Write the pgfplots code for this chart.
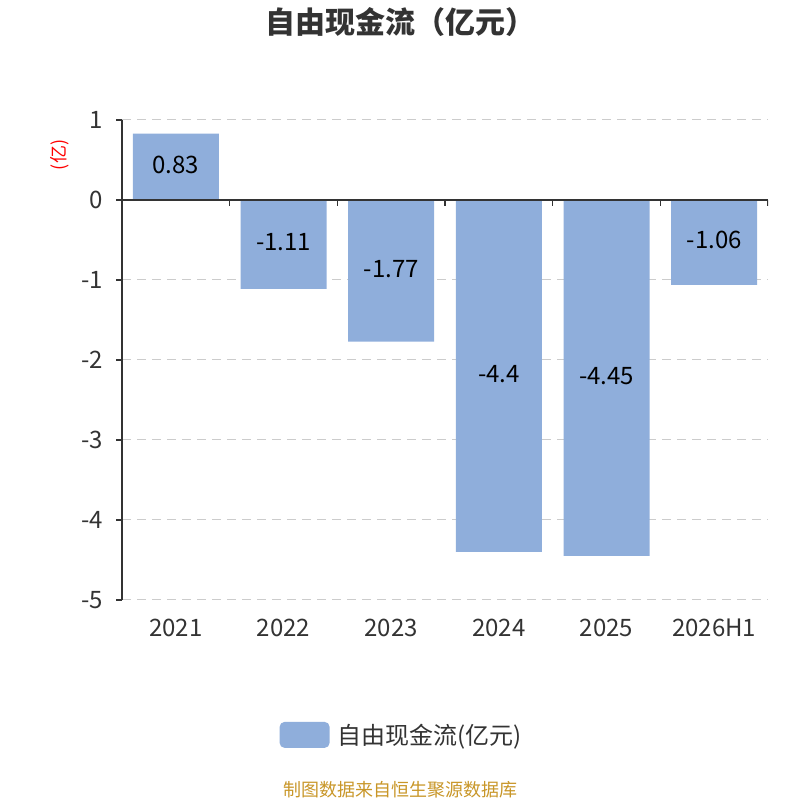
\documentclass[border=0pt]{standalone}
\usepackage{pgfplots}
\pgfplotsset{compat=1.18}
\usepackage{fontspec}
\setmainfont{Noto Sans CJK SC}
\definecolor{barc}{RGB}{143,174,219}
\definecolor{c333}{RGB}{51,51,51}
\definecolor{gridc}{RGB}{204,204,204}
\definecolor{footc}{RGB}{200,150,40}
\begin{document}
\begin{tikzpicture}[x=1pt,y=1pt]
\path[use as bounding box] (0,0) rectangle (800,800);
\begin{axis}[
  at={(122pt,200pt)}, anchor=south west,
  width=646pt, height=480pt, scale only axis,
  xmin=-0.5, xmax=5.5, ymin=-5, ymax=1,
  separate axis lines,
  axis y line*=left, axis x line*=bottom,
  x axis line style={draw=none},
  y axis line style={c333, line width=1.2pt},
  xtick={0,1,2,3,4,5},
  xticklabels={2021,2022,2023,2024,2025,2026H1},
  x tick style={draw=none},
  ytick={-5,-4,-3,-2,-1,0,1},
  yticklabels={-5,-4,-3,-2,-1,0,1},
  y tick style={c333, line width=1.2pt},
  tick align=outside, major tick length=6pt,
  ymajorgrids,
  major grid style={gridc, line width=1pt, dash pattern=on 9pt off 6pt},
  ticklabel style={font=\fontsize{24}{28}\selectfont, text=c333},
  xticklabel style={anchor=center, yshift=-22pt},
  yticklabel style={anchor=east, inner sep=0pt, xshift=-13pt},
  legend style={at={(0.433,-0.281)}, anchor=center, draw=none, column sep=6pt,
    font=\fontsize{24}{28}\selectfont, text=c333},
]
\addplot[ybar, bar width=86pt, fill=barc, draw=none,
  legend image code/.code={\fill[barc, rounded corners=5pt] (0pt,-13pt) rectangle (50pt,13pt);}]
  coordinates {(0,0.83) (1,-1.11) (2,-1.77) (3,-4.4) (4,-4.45) (5,-1.06)};
\addlegendentry{自由现金流(亿元)}
\addplot[forget plot, only marks, mark=none, nodes near coords,
  point meta=explicit symbolic,
  nodes near coords style={anchor=center, yshift=2pt, font=\fontsize{24}{28}\selectfont, text=black}]
  coordinates {(0,0.415)[0.83] (1,-0.555)[-1.11] (2,-0.885)[-1.77] (3,-2.2)[-4.4] (4,-2.225)[-4.45] (5,-0.53)[-1.06]};
\draw[c333, line width=1.2pt] (axis cs:-0.5,0) -- (axis cs:5.5,0);
\draw[c333, line width=1.2pt] (axis cs:0.5,0) -- ++(0pt,-6pt);
\draw[c333, line width=1.2pt] (axis cs:1.5,0) -- ++(0pt,-6pt);
\draw[c333, line width=1.2pt] (axis cs:2.5,0) -- ++(0pt,-6pt);
\draw[c333, line width=1.2pt] (axis cs:3.5,0) -- ++(0pt,-6pt);
\draw[c333, line width=1.2pt] (axis cs:4.5,0) -- ++(0pt,-6pt);
\draw[c333, line width=1.2pt] (axis cs:5.5,0) -- ++(0pt,-6pt);
\end{axis}
\node[font=\bfseries\fontsize{30}{34}\selectfont, text=c333] at (400,778) {自由现金流（亿元）};
\node[rotate=90, text=red, font=\fontsize{18}{20}\selectfont] at (60,645) {(亿)};
\node[font=\fontsize{18}{20}\selectfont, text=footc] at (400,10) {制图数据来自恒生聚源数据库};
\end{tikzpicture}
\end{document}
